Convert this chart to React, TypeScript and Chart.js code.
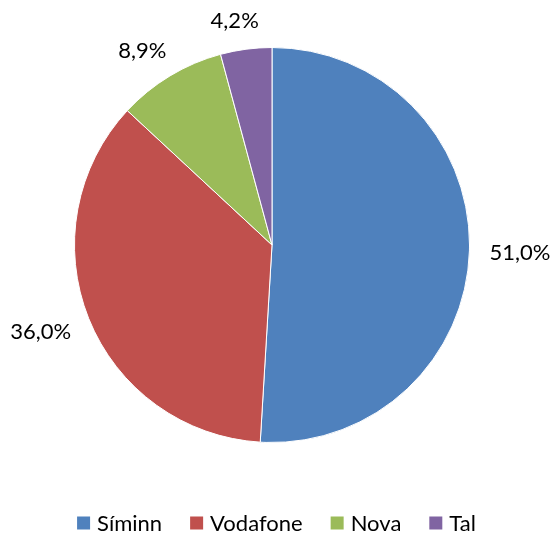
import React, { useEffect, useRef } from "react";
import { Chart, registerables } from "chart.js";

Chart.register(...registerables);

const categories = ["Síminn", "Vodafone", "Nova", "Tal"];
const shares = [51.0, 36.0, 8.9, 4.2];
const colors = ["#4F81BD", "#C0504D", "#9BBB59", "#8064A2"];

const FONT = "Lato, 'Open Sans', sans-serif";

const outsideLabels = {
  id: "outsideLabels",
  afterDatasetsDraw(chart: any) {
    const ctx = chart.ctx;
    const meta = chart.getDatasetMeta(0);
    ctx.save();
    ctx.font = `22px ${FONT}`;
    ctx.fillStyle = "#000";
    ctx.textAlign = "center";
    ctx.textBaseline = "middle";
    meta.data.forEach((arc: any, i: number) => {
      const { x, y, startAngle, endAngle, outerRadius } = arc.getProps(
        ["x", "y", "startAngle", "endAngle", "outerRadius"],
        true
      );
      const mid = (startAngle + endAngle) / 2;
      const c = Math.cos(mid);
      const s = Math.sin(mid);
      const text = shares[i].toFixed(1).replace(".", ",") + "%";
      const w = ctx.measureText(text).width;
      const h = 18;
      const d = outerRadius + 20;
      const tx = x + c * d + Math.sign(c) * Math.sqrt(Math.abs(c)) * (w / 2);
      const ty = y + s * d + Math.sign(s) * Math.sqrt(Math.abs(s)) * (h / 2);
      ctx.fillText(text, tx, ty);
    });
    ctx.restore();
  },
};

const bottomLegend = {
  id: "bottomLegend",
  afterDraw(chart: any) {
    const ctx = chart.ctx;
    ctx.save();
    ctx.font = `22px ${FONT}`;
    ctx.textBaseline = "middle";
    ctx.textAlign = "left";
    const box = 13;
    const gapBoxText = 7;
    const gapItems = 28;
    const widths = categories.map((c) => ctx.measureText(c).width);
    const total =
      widths.reduce((a, b) => a + b, 0) +
      categories.length * (box + gapBoxText) +
      (categories.length - 1) * gapItems;
    let x = (chart.width - total) / 2 + 1;
    const cy = chart.height - 10;
    categories.forEach((c, i) => {
      ctx.fillStyle = colors[i];
      ctx.fillRect(x, cy - box / 2, box, box);
      x += box + gapBoxText;
      ctx.fillStyle = "#000";
      ctx.fillText(c, x, cy + 1);
      x += widths[i] + gapItems;
    });
    ctx.restore();
  },
};

export default function App() {
  const ref = useRef<HTMLCanvasElement>(null);
  useEffect(() => {
    document.body.style.margin = "0";
    const chart = new Chart(ref.current!, {
      type: "pie",
      data: {
        labels: categories,
        datasets: [
          {
            data: shares,
            backgroundColor: colors,
            borderColor: "#ffffff",
            borderWidth: 1,
          },
        ],
      },
      options: {
        responsive: false,
        animation: false,
        layout: { padding: { left: 74, right: 81, top: 47, bottom: 90 } },
        plugins: {
          tooltip: { enabled: false },
          legend: { display: false },
        },
      },
      plugins: [outsideLabels, bottomLegend],
    });
    return () => chart.destroy();
  }, []);
  return (
    <div style={{ width: 551, height: 533 }}>
      <canvas ref={ref} width={551} height={533} style={{ display: "block" }} />
    </div>
  );
}
